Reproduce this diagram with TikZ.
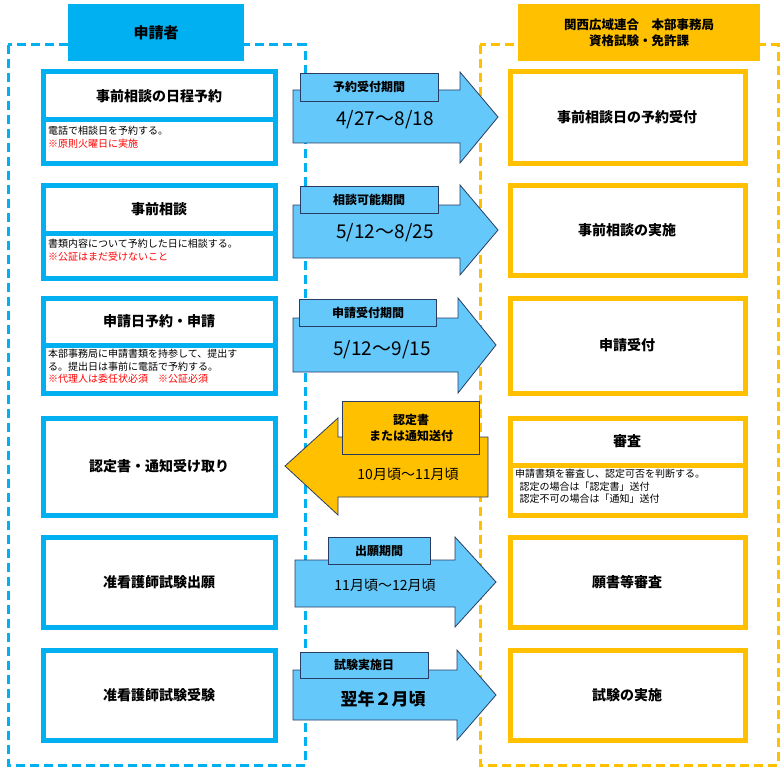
\documentclass[tikz,border=0pt]{standalone}
\usepackage{fontspec}
\setmainfont{Noto Sans CJK JP}
\definecolor{cblue}{RGB}{0,176,240}
\definecolor{corange}{RGB}{255,192,0}
\definecolor{afill}{RGB}{100,200,250}
\definecolor{aline}{RGB}{40,60,100}
\begin{document}
\begin{tikzpicture}[x=1pt,y=-1pt,
 lbox/.style={draw=cblue,line width=5pt,fill=white},
 rbox/.style={draw=corange,line width=5pt,fill=white},
 ttl/.style={font=\bfseries\fontsize{14}{16}\selectfont,align=center},
 dsc/.style={font=\fontsize{10}{12.5}\selectfont,align=left,anchor=north west,inner sep=1pt},
 arr/.style={draw=aline,line width=0.8pt,fill=afill},
 albl/.style={draw=aline,line width=0.8pt,fill=afill,font=\bfseries\fontsize{12}{14}\selectfont},
 big/.style={font=\fontsize{19}{22}\selectfont},
 mid/.style={font=\fontsize{14}{16}\selectfont}]
\useasboundingbox (0,0) rectangle (783,770);
% columns
\draw[cblue,line width=3pt,dash pattern=on 9pt off 5pt] (8,45) rectangle (305,765);
\draw[corange,line width=3pt,dash pattern=on 9pt off 5pt] (480,45) rectangle (778,765);
\node[fill=cblue,minimum width=176,minimum height=57,font=\bfseries\fontsize{15}{17}\selectfont] (hl) at (156,33) {申請者};
\node[fill=corange,minimum width=242,minimum height=57,align=center,font=\bfseries\fontsize{12.5}{16}\selectfont] (hr) at (639,33) {関西広域連合　本部事務局\\資格試験・免許課};
% left boxes
\draw[lbox] (43,72) rectangle (275,120); \node[ttl] (l1) at (159,96) {事前相談の日程予約};
\draw[lbox] (43,120) rectangle (275,163); \node[dsc] (l1d) at (47,125) {電話で相談日を予約する。\\\textcolor{red}{※原則火曜日に実施}};
\draw[lbox] (43,185) rectangle (275,233); \node[ttl] (l2) at (159,209) {事前相談};
\draw[lbox] (43,233) rectangle (275,278); \node[dsc] (l2d) at (47,238) {書類内容について予約した日に相談する。\\\textcolor{red}{※公証はまだ受けないこと}};
\draw[lbox] (43,298) rectangle (275,345); \node[ttl] (l3) at (159,321) {申請日予約・申請};
\draw[lbox] (43,345) rectangle (275,393); \node[dsc] (l3d) at (47,348) {本部事務局に申請書類を持参して、提出す\\る。提出日は事前に電話で予約する。\\\textcolor{red}{※代理人は委任状必須\quad ※公証必須}};
\draw[lbox] (43,418) rectangle (275,515); \node[ttl] (l4) at (159,466) {認定書・通知受け取り};
\draw[lbox] (43,537) rectangle (275,627); \node[ttl] (l5) at (159,582) {准看護師試験出願};
\draw[lbox] (43,650) rectangle (275,740); \node[ttl] (l6) at (159,695) {准看護師試験受験};
% right boxes
\draw[rbox] (510,72) rectangle (745,163); \node[ttl] (r1) at (627,117) {事前相談日の予約受付};
\draw[rbox] (510,185) rectangle (745,275); \node[ttl] (r2) at (627,230) {事前相談の実施};
\draw[rbox] (510,298) rectangle (745,393); \node[ttl] (r3) at (627,345) {申請受付};
\draw[rbox] (510,418) rectangle (745,465); \node[ttl] (r4) at (627,441) {審査};
\draw[rbox] (510,465) rectangle (745,515); \node[dsc] (r4d) at (514,468) {申請書類を審査し、認定可否を判断する。\\\ \ 認定の場合は「認定書」送付\\\ \ 認定不可の場合は「通知」送付};
\draw[rbox] (510,537) rectangle (745,627); \node[ttl] (r5) at (627,582) {願書等審査};
\draw[rbox] (510,650) rectangle (745,740); \node[ttl] (r6) at (627,695) {試験の実施};
% right arrows
\draw[arr] (293,90) -- (460,90) -- (460,72) -- (498,117) -- (460,163) -- (460,143) -- (293,143) -- cycle;
\node[albl,minimum width=138,minimum height=28] (a1) at (369,87) {予約受付期間};
\node[big] (a1t) at (385,120) {4/27～8/18};
\draw[arr] (293,205) -- (460,205) -- (460,185) -- (498,230) -- (460,275) -- (460,258) -- (293,258) -- cycle;
\node[albl,minimum width=138,minimum height=27] (a2) at (369,200) {相談可能期間};
\node[big] (a2t) at (385,233) {5/12～8/25};
\draw[arr] (293,318) -- (458,318) -- (458,298) -- (496,345) -- (458,393) -- (458,372) -- (293,372) -- cycle;
\node[albl,minimum width=137,minimum height=27] (a3) at (368,313) {申請受付期間};
\node[big] (a3t) at (382,350) {5/12～9/15};
% left arrow
\draw[fill=corange,draw=aline,line width=0.8pt] (488,437) -- (338,437) -- (338,418) -- (285,466) -- (338,515) -- (338,497) -- (488,497) -- cycle;
\node[albl,fill=corange,minimum width=137,minimum height=53,align=center,font=\bfseries\fontsize{12}{16}\selectfont] (a4) at (411,428) {認定書\\または通知送付};
\node[mid] (a4t) at (408,474) {10月頃～11月頃};
% arrows 5,6
\draw[arr] (295,560) -- (455,560) -- (455,537) -- (496,582) -- (455,627) -- (455,607) -- (295,607) -- cycle;
\node[albl,minimum width=102,minimum height=27] (a5) at (379,551) {出願期間};
\node[mid] (a5t) at (385,585) {11月頃～12月頃};
\draw[arr] (293,670) -- (457,670) -- (457,650) -- (496,695) -- (457,740) -- (457,720) -- (293,720) -- cycle;
\node[albl,minimum width=128,minimum height=26] (a6) at (364,665) {試験実施日};
\node[big,font=\bfseries\fontsize{17}{20}\selectfont] (a6t) at (383,699) {翌年２月頃};
\end{tikzpicture}
\end{document}
